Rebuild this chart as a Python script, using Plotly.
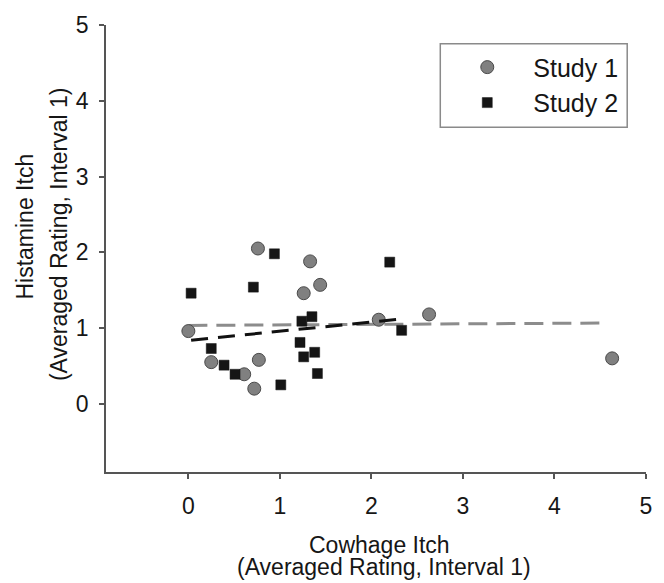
import plotly.graph_objects as go

# Study 1 (gray circles)
s1_x = [0.00, 0.25, 0.61, 0.72, 0.77, 0.76, 1.33, 1.26, 1.44, 2.08, 2.63, 4.63]
s1_y = [0.96, 0.55, 0.39, 0.20, 0.58, 2.05, 1.88, 1.46, 1.57, 1.11, 1.18, 0.60]

# Study 2 (black squares)
s2_x = [0.03, 0.25, 0.39, 0.51, 0.71, 0.94, 1.01, 1.22, 1.24, 1.26, 1.35, 1.38, 1.41, 2.20, 2.33]
s2_y = [1.46, 0.73, 0.51, 0.39, 1.54, 1.98, 0.25, 0.81, 1.09, 0.62, 1.15, 0.68, 0.40, 1.87, 0.97]

# Regression line end points
fit1_x = [0.00, 4.56]
fit1_y = [1.035, 1.066]
fit2_x = [0.03, 2.33]
fit2_y = [0.84, 1.12]

tick_vals = [0, 1, 2, 3, 4, 5]
tick_text = ["0", "1", "2", "3", "4", "5"]

x_title = ["Cowhage Itch", "(Averaged Rating, Interval 1)"]
y_title = ["Histamine Itch", "(Averaged Rating, Interval 1)"]
legend_names = ["Study 1", "Study 2"]

FONT = "Liberation Sans, Arial, sans-serif"
TXT = "#161616"
AX = "#555555"

fig = go.Figure()
fig.add_trace(go.Scatter(x=fit1_x, y=fit1_y, mode="lines", showlegend=False,
                         line=dict(color="#8c8c8c", width=3, dash="19px,9px")))
fig.add_trace(go.Scatter(x=s1_x, y=s1_y, mode="markers", name=legend_names[0],
                         marker=dict(symbol="circle", size=13, color="#808080",
                                     line=dict(color="#4a4a4a", width=1))))
fig.add_trace(go.Scatter(x=s2_x, y=s2_y, mode="markers", name=legend_names[1],
                         marker=dict(symbol="square", size=10, color="#151515",
                                     line=dict(color="#151515", width=0.5))))
fig.add_trace(go.Scatter(x=fit2_x, y=fit2_y, mode="lines", showlegend=False,
                         line=dict(color="#111111", width=3, dash="17px,10px")))

axis_common = dict(showline=True, linecolor=AX, linewidth=1.5, ticks="outside",
                   ticklen=5, tickwidth=1.5, tickcolor=AX, showgrid=False,
                   zeroline=False, tickvals=tick_vals, ticktext=tick_text,
                   tickfont=dict(family=FONT, size=23, color=TXT))

fig.update_xaxes(range=[-0.9, 5.0], ticklabelstandoff=8, **axis_common)
fig.update_yaxes(range=[-0.9, 5.0], ticklabelstandoff=6, **axis_common)

L, R, T, B = 106, 12, 22, 111
W, H = 664, 583
pw, ph = W - L - R, H - T - B

def px(p):
    return (p - L) / pw

def py(q):
    return (H - B - q) / ph

ann = []
ann.append(dict(text=x_title[0], x=px(383), y=py(545), xref="paper", yref="paper",
                showarrow=False, xanchor="center", yanchor="middle",
                font=dict(family=FONT, size=23, color=TXT)))
ann.append(dict(text=x_title[1], x=px(387), y=py(568), xref="paper", yref="paper",
                showarrow=False, xanchor="center", yanchor="middle",
                font=dict(family=FONT, size=23, color=TXT)))
ann.append(dict(text=y_title[0], x=px(24), y=py(225), xref="paper", yref="paper",
                showarrow=False, xanchor="center", yanchor="middle", textangle=-90,
                font=dict(family=FONT, size=23, color=TXT)))
ann.append(dict(text=y_title[1], x=px(58), y=py(233), xref="paper", yref="paper",
                showarrow=False, xanchor="center", yanchor="middle", textangle=-90,
                font=dict(family=FONT, size=23, color=TXT)))

fig.update_layout(
    width=W, height=H,
    margin=dict(l=L, r=R, t=T, b=B, pad=0),
    paper_bgcolor="white", plot_bgcolor="white",
    font=dict(family=FONT, color=TXT),
    annotations=ann,
    legend=dict(x=px(445), y=py(41.5), xanchor="left", yanchor="top",
                bgcolor="rgba(0,0,0,0)", borderwidth=0, itemwidth=82,
                font=dict(family=FONT, size=25, color=TXT)),
    shapes=[dict(type="rect", xref="paper", yref="paper",
                 x0=px(444), x1=px(633), y0=py(125), y1=py(41),
                 line=dict(color="#8a8a8a", width=1.5), fillcolor="rgba(0,0,0,0)")],
)

fig.write_html("out.html", config={"displayModeBar": False},
               post_script="document.body.style.margin='0';document.body.style.overflow='hidden';")
